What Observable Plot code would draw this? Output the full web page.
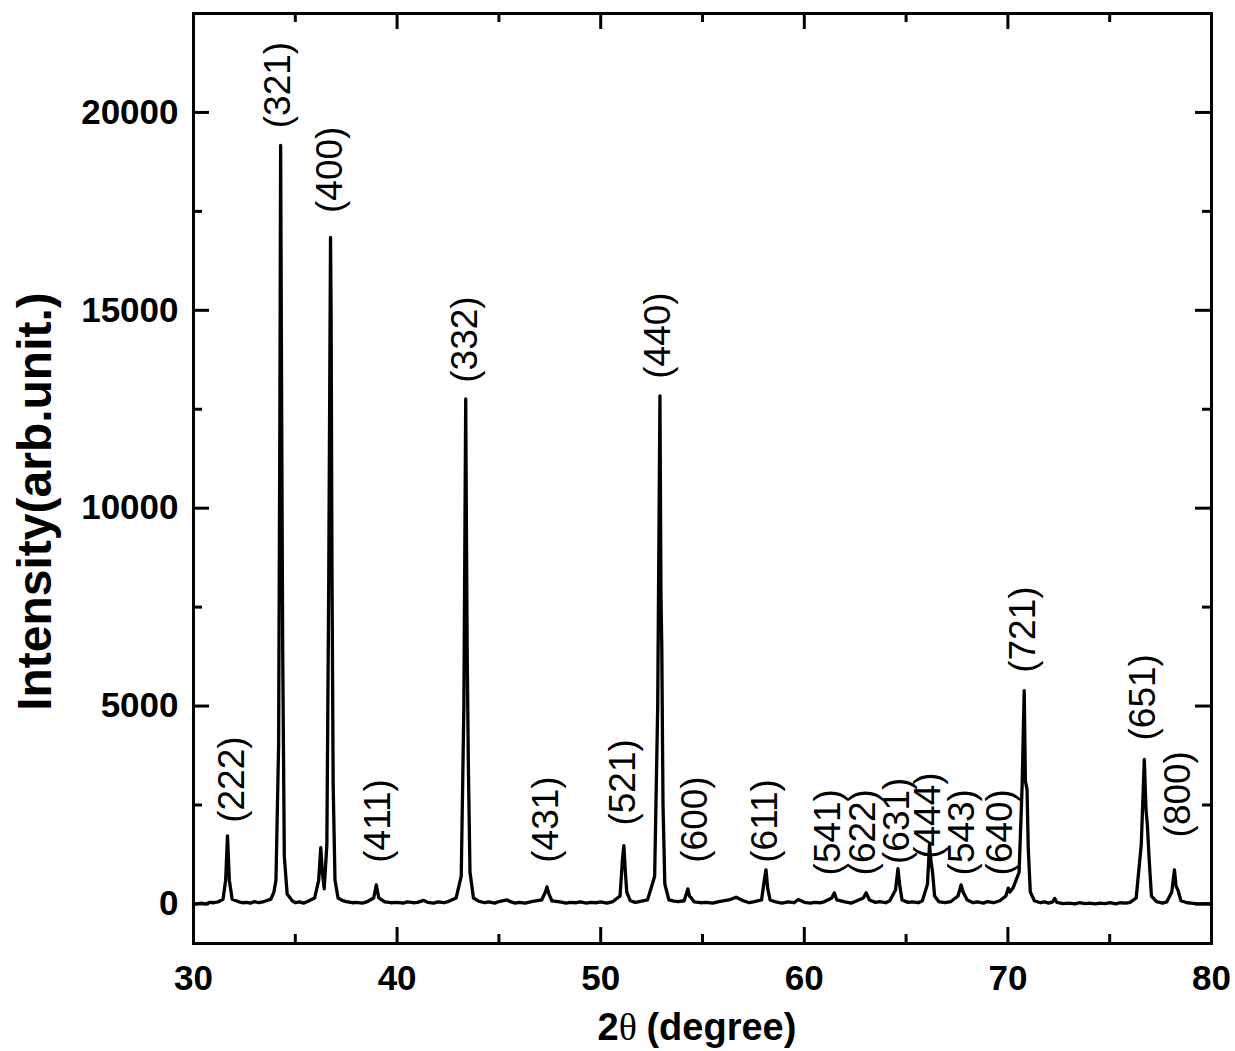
<!DOCTYPE html>
<html>
<head>
<meta charset="utf-8">
<script src="https://cdn.jsdelivr.net/npm/d3@7"></script>
<script src="https://cdn.jsdelivr.net/npm/@observablehq/plot@0.6"></script>
<style>
  html, body { margin: 0; padding: 0; background: #fff; }
  #chart svg { display: block; }
</style>
</head>
<body>
<div id="chart"></div>
<script>
// XRD pattern: 2θ (degree) against intensity (arb. unit)
const twoTheta = [
  30.0, 30.2, 30.4, 30.6, 30.8, 31.0, 31.2, 31.45, 31.58, 31.67, 31.76, 31.9, 32.2, 32.4, 32.6, 32.8, 33.0, 33.2, 33.4,
  33.8, 33.95, 34.05, 34.18, 34.24, 34.28, 34.33, 34.38, 34.46, 34.6, 34.85, 35.0, 35.2, 35.4, 35.6,
  35.95, 36.15, 36.25, 36.33, 36.42, 36.55, 36.64, 36.73, 36.76, 36.8, 36.86, 36.95,
  37.1, 37.3, 37.5, 37.8, 38.0, 38.3, 38.5, 38.85, 38.98, 39.1, 39.4, 39.7, 40.0, 40.3, 40.5, 40.8, 41.0, 41.3, 41.5,
  41.8, 42.0, 42.3, 42.5, 42.9, 43.15, 43.28, 43.37, 43.41, 43.44, 43.5, 43.58, 43.75, 44.0,
  44.3, 44.5, 44.8, 45.0, 45.4, 45.6, 45.8, 46.0, 46.3, 46.6, 47.1, 47.3, 47.36, 47.45, 47.6, 48.0, 48.3, 48.5,
  48.8, 49.0, 49.3, 49.5, 49.8, 50.0, 50.3, 50.6, 50.95, 51.08, 51.14, 51.2, 51.28, 51.45, 51.7, 51.9, 52.3,
  52.65, 52.8, 52.91, 52.96, 53.0, 53.06, 53.15, 53.35, 53.6, 53.8, 54.1, 54.28, 54.36,
  54.45, 54.6, 54.9, 55.2, 55.5, 55.8, 56.3, 56.65, 57.0, 57.3, 57.5, 57.9, 58.05, 58.12, 58.2, 58.32,
  58.6, 58.9, 59.2, 59.5, 59.7, 60.0, 60.3, 60.5, 60.8, 61.0, 61.35, 61.47, 61.6, 62.0, 62.3, 62.5, 62.9, 63.04,
  63.2, 63.5, 63.7, 64.0, 64.2, 64.48, 64.6, 64.68, 64.8, 65.1, 65.3, 65.6, 65.8, 66.05, 66.15, 66.22, 66.3,
  66.4, 66.6, 66.9, 67.2, 67.55, 67.7, 67.8, 68.0, 68.3, 68.5, 68.8, 69.0, 69.3, 69.6, 69.9, 70.02, 70.1,
  70.25, 70.55, 70.7, 70.8, 70.86, 70.94, 71.0, 71.1, 71.3, 71.6, 71.8, 72.0, 72.2, 72.3, 72.4,
  72.7, 73.0, 73.3, 73.5, 73.8, 74.0, 74.3, 74.5, 74.8, 75.0, 75.3, 75.5, 75.8, 76.0, 76.3, 76.55, 76.7, 76.78, 76.85, 76.93,
  77.05, 77.3, 77.6, 77.8, 78.05, 78.18, 78.26, 78.35, 78.5, 78.8, 79.0, 79.3, 79.5, 79.8, 80.0
];
const intensity = [
  -10, 10, 20, 0, 40, 30, 50, 120, 600, 1720, 600, 120, 60, 30, 40, 20, 60, 30, 50,
  120, 300, 600, 4000, 12000, 19170, 12500, 6500, 1200, 250, 80, 30, 50, 20, 60,
  150, 600, 1420, 800, 380, 1500, 8000, 16840, 14800, 8600, 3000, 600,
  150, 90, 60, 30, 40, 20, 50, 150, 480, 150, 50, 30, 40, 20, 50, 30, 40, 90, 40,
  20, 50, 30, 60, 150, 700, 5000, 12760, 9000, 6500, 3500, 800, 150, 70,
  30, 50, 20, 60, 100, 50, 20, 40, 20, 60, 100, 320, 430, 260, 80, 50, 20, 40,
  30, 50, 20, 40, 30, 50, 20, 60, 200, 1200, 1470, 900, 300, 80, 40, 60, 100,
  700, 5000, 12840, 7800, 6500, 2500, 500, 100, 70, 60, 80, 380, 200,
  150, 50, 30, 40, 20, 60, 100, 170, 80, 30, 50, 100, 650, 860, 400, 100,
  50, 20, 50, 30, 110, 40, 20, 40, 30, 60, 150, 280, 100, 50, 20, 60, 150, 280,
  100, 40, 60, 30, 80, 350, 890, 500, 100, 40, 50, 30, 80, 500, 1500, 1100, 800,
  200, 60, 30, 60, 200, 480, 300, 100, 30, 50, 20, 60, 30, 80, 200, 400, 300,
  400, 800, 3000, 5390, 3100, 2890, 1400, 300, 80, 30, 50, 20, 50, 140, 40,
  10, 20, 0, 30, 10, 20, 0, 20, 10, 30, 0, 30, 20, 40, 150, 1500, 3650, 2400, 2000, 1200,
  200, 60, 20, 50, 300, 860, 450, 350, 80, 30, 20, 0, 0, 10, -10
];

// Miller indices of the reflections and where each label starts (2θ, intensity)
const hkl = ["(222)", "(321)", "(400)", "(411)", "(332)", "(431)", "(521)", "(440)",
  "(600)", "(611)", "(541)", "(622)", "(631)", "(444)", "(543)", "(640)",
  "(721)", "(651)", "(800)"];
const labelTheta = [31.92, 34.17, 36.73, 39.09, 43.36, 47.34, 51.12, 52.84,
  54.66, 58.09, 61.19, 62.91, 64.58, 66.1, 67.77, 69.64,
  70.77, 76.66, 78.38];
const labelBase = [2050, 19600, 17460, 1040, 13170, 1040, 1980, 13270,
  1040, 1040, 720, 720, 1010, 1140, 720, 720,
  5840, 4130, 1680];

// Axis ticks
const xMajor = [30, 40, 50, 60, 70, 80];
const xMinor = [35, 45, 55, 65, 75];
const yMajor = [0, 5000, 10000, 15000, 20000];
const yMinor = [2500, 7500, 12500, 17500];

const profile = twoTheta.map((t, i) => ({t, v: intensity[i]}));
const labels = hkl.map((h, i) => ({h, t: labelTheta[i], v: labelBase[i]}));

const W = 1235, H = 1051;
const mL = 193, mR = 24, mT = 13, mB = 108;
const fw = W - mL - mR, fh = H - mT - mB;
const majorLen = 16, minorLen = 9;
const sans = "'Liberation Sans', Arial, Helvetica, sans-serif";

const chart = Plot.plot({
  width: W,
  height: H,
  marginLeft: mL,
  marginRight: mR,
  marginTop: mT,
  marginBottom: mB,
  style: {fontFamily: sans, color: "#000", background: "#fff"},
  x: {domain: [30, 80], label: null},
  y: {domain: [-1000, 22500], label: null},
  marks: [
    Plot.frame({stroke: "#000", strokeWidth: 3}),
    // inward ticks on all four sides
    Plot.tickX(xMajor.slice(1, -1), {x: d => d, insetTop: fh - majorLen, stroke: "#000", strokeWidth: 3}),
    Plot.tickX(xMajor.slice(1, -1), {x: d => d, insetBottom: fh - majorLen, stroke: "#000", strokeWidth: 3}),
    Plot.tickX(xMinor, {x: d => d, insetTop: fh - minorLen, stroke: "#000", strokeWidth: 3}),
    Plot.tickX(xMinor, {x: d => d, insetBottom: fh - minorLen, stroke: "#000", strokeWidth: 3}),
    Plot.tickY(yMajor, {y: d => d, insetRight: fw - majorLen, stroke: "#000", strokeWidth: 3}),
    Plot.tickY(yMajor, {y: d => d, insetLeft: fw - majorLen, stroke: "#000", strokeWidth: 3}),
    Plot.tickY(yMinor, {y: d => d, insetRight: fw - minorLen, stroke: "#000", strokeWidth: 3}),
    Plot.tickY(yMinor, {y: d => d, insetLeft: fw - minorLen, stroke: "#000", strokeWidth: 3}),
    // tick labels
    Plot.axisX({ticks: xMajor, tickSize: 0, tickPadding: 22, tickFormat: d => String(d),
      fontSize: 35, fontWeight: "bold", fill: "#000", label: null}),
    Plot.axisY({ticks: yMajor, tickSize: 0, tickPadding: 15, tickFormat: d => String(d),
      fontSize: 35, fontWeight: "bold", fill: "#000", label: null}),
    // diffraction profile
    Plot.line(profile, {x: "t", y: "v", stroke: "#000", strokeWidth: 3.3, strokeLinejoin: "round"}),
    // reflection labels
    Plot.text(labels, {x: "t", y: "v", text: "h", rotate: -90, textAnchor: "start",
      fontSize: 37, fill: "#000", fontFamily: "'Liberation Sans', Arial, sans-serif"}),
    // y-axis title
    Plot.text(["Intensity(arb.unit.)"], {frameAnchor: "left", dx: -158, dy: 23, rotate: -90,
      textAnchor: "middle", fontSize: 48, fontWeight: "bold", fill: "#000"})
  ]
});

document.getElementById("chart").appendChild(chart);

// x-axis title with a serif theta
const svg = d3.select(chart);
const xt = svg.append("text")
  .attr("x", mL + fw / 2 - 5)
  .attr("y", H - mB + 97)
  .attr("text-anchor", "middle")
  .attr("fill", "#000")
  .attr("font-size", 38);
xt.append("tspan").attr("font-family", sans).attr("font-weight", "bold").text("2");
xt.append("tspan").attr("font-family", "'Liberation Serif', 'Times New Roman', serif").text("θ ");
xt.append("tspan").attr("font-family", sans).attr("font-weight", "bold").text("(degree)");
</script>
</body>
</html>
